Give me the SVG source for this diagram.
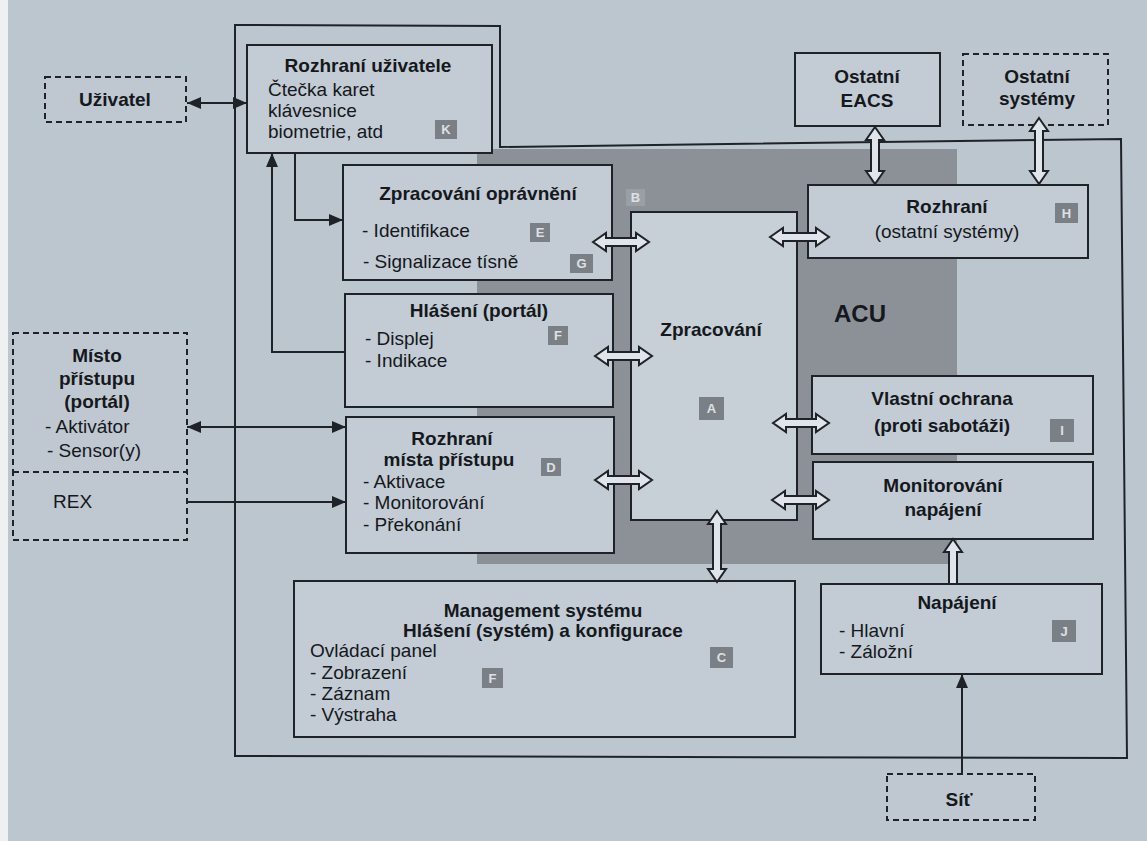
<svg xmlns="http://www.w3.org/2000/svg" width="1147" height="841" viewBox="0 0 1147 841">
<defs>
<style>
.bg{fill:#bcc6cf}
.box{fill:#c3ccd4;stroke:#1f2328;stroke-width:2}
.inner{fill:#c7cfd7;stroke:#1f2328;stroke-width:2}
.dash{fill:#bfc8d0;stroke:#1f2328;stroke-width:2;stroke-dasharray:6 4}
.frame{fill:none;stroke:#1f2328;stroke-width:2}
.acu{fill:#8c9197}
.t{font-family:"Liberation Sans",Arial,sans-serif;font-size:19px;fill:#15181c}
.b{font-weight:bold}
.c{text-anchor:middle}
.big{font-size:24px}
.badge{fill:#7b8086}
.badge2{fill:#9a9fa5}
.bl{font-family:"Liberation Sans",Arial,sans-serif;font-size:13px;font-weight:bold;fill:#dde1e5;text-anchor:middle}
.ln{fill:none;stroke:#1f2328;stroke-width:2}
.ha{fill:#dfe5ea;stroke:#1f2328;stroke-width:2}
</style>
<marker id="ah" viewBox="0 0 14 12" refX="14" refY="6" markerWidth="14" markerHeight="12" markerUnits="userSpaceOnUse" orient="auto-start-reverse">
<path d="M0,0 L14,6 L0,12 Z" fill="#1f2328"/>
</marker>
</defs>

<rect class="bg" x="0" y="0" width="1147" height="841"/>
<rect x="0" y="0" width="8" height="841" fill="#eef0f2"/>

<g id="acu-region">
<rect class="acu" x="477" y="149" width="480" height="415"/>
<text class="t b big" x="860" y="322" text-anchor="middle">ACU</text>
</g>

<g id="system-frame">
<path class="frame" d="M235,25 L500,26 L500,147 L1121,139 L1127,758 L235,756 Z"/>
</g>

<g id="uzivatel">
<rect class="dash" x="45" y="77" width="141" height="45"/>
<text class="t b c" x="115" y="106">Uživatel</text>
</g>

<g id="rozhrani-uzivatele">
<rect class="box" x="247" y="45" width="245" height="108"/>
<text class="t b c" x="368" y="72">Rozhraní uživatele</text>
<text class="t" x="268" y="96">Čtečka karet</text>
<text class="t" x="268" y="117">klávesnice</text>
<text class="t" x="268" y="138">biometrie, atd</text>
<rect class="badge" x="435" y="120" width="22" height="19"/>
<text class="bl" x="446" y="134">K</text>
</g>

<g id="badge-b">
<rect class="badge2" x="626" y="189" width="19" height="17"/>
<text class="bl" x="635.5" y="202">B</text>
</g>

<g id="zpracovani-opravneni">
<rect class="box" x="343" y="165" width="269" height="115"/>
<text class="t b c" x="478" y="200">Zpracování oprávnění</text>
<text class="t" x="362" y="237">- Identifikace</text>
<text class="t" x="363" y="268">- Signalizace tísně</text>
<rect class="badge" x="530" y="223" width="20" height="19"/>
<text class="bl" x="540" y="237">E</text>
<rect class="badge" x="570" y="254" width="23" height="19"/>
<text class="bl" x="581.5" y="268">G</text>
</g>

<g id="hlaseni-portal">
<rect class="box" x="345" y="294" width="268" height="113"/>
<text class="t b c" x="479" y="317">Hlášení (portál)</text>
<text class="t" x="365" y="345">- Displej</text>
<text class="t" x="365" y="367">- Indikace</text>
<rect class="badge" x="548" y="326" width="20" height="19"/>
<text class="bl" x="558" y="340">F</text>
</g>

<g id="rozhrani-mista-pristupu">
<rect class="box" x="346" y="417" width="268" height="136"/>
<text class="t b c" x="452" y="445">Rozhraní</text>
<text class="t b c" x="449" y="466">místa přístupu</text>
<rect class="badge" x="541" y="458" width="20" height="18"/>
<text class="bl" x="551" y="472">D</text>
<text class="t" x="363" y="488">- Aktivace</text>
<text class="t" x="363" y="509">- Monitorování</text>
<text class="t" x="363" y="531">- Překonání</text>
</g>

<g id="zpracovani">
<rect class="inner" x="631" y="212" width="166" height="308"/>
<text class="t b c" x="711" y="336">Zpracování</text>
<rect class="badge" x="699" y="397" width="25" height="23"/>
<text class="bl" x="711.5" y="413">A</text>
</g>

<g id="ostatni-eacs">
<rect class="box" x="795" y="53" width="145" height="73"/>
<text class="t b c" x="867" y="83">Ostatní</text>
<text class="t b c" x="867" y="107">EACS</text>
</g>

<g id="ostatni-systemy">
<rect class="dash" x="963" y="54" width="145" height="71"/>
<text class="t b c" x="1037" y="83">Ostatní</text>
<text class="t b c" x="1037" y="105">systémy</text>
</g>

<g id="rozhrani-ostatni">
<rect class="box" x="808" y="185" width="280" height="73"/>
<text class="t b c" x="947" y="213">Rozhraní</text>
<text class="t c" x="947" y="238">(ostatní systémy)</text>
<rect class="badge" x="1055" y="203" width="23" height="20"/>
<text class="bl" x="1066.5" y="218">H</text>
</g>

<g id="vlastni-ochrana">
<rect class="box" x="812" y="376" width="281" height="78"/>
<text class="t b c" x="942" y="405">Vlastní ochrana</text>
<text class="t b c" x="942" y="432">(proti sabotáži)</text>
<rect class="badge" x="1050" y="419" width="24" height="23"/>
<text class="bl" x="1062" y="435">I</text>
</g>

<g id="monitorovani-napajeni">
<rect class="box" x="813" y="462" width="280" height="77"/>
<text class="t b c" x="943" y="492">Monitorování</text>
<text class="t b c" x="943" y="516">napájení</text>
</g>

<g id="management">
<rect class="box" x="294" y="581" width="501" height="156"/>
<text class="t b c" x="543" y="617">Management systému</text>
<text class="t b c" x="543" y="637">Hlášení (systém) a konfigurace</text>
<text class="t" x="310" y="657">Ovládací panel</text>
<text class="t" x="310" y="679">- Zobrazení</text>
<text class="t" x="310" y="700">- Záznam</text>
<text class="t" x="310" y="721">- Výstraha</text>
<rect class="badge" x="482" y="668" width="21" height="20"/>
<text class="bl" x="492.5" y="683">F</text>
<rect class="badge" x="710" y="647" width="23" height="21"/>
<text class="bl" x="721.5" y="662">C</text>
</g>

<g id="napajeni">
<rect class="box" x="821" y="584" width="281" height="90"/>
<text class="t b c" x="957" y="609">Napájení</text>
<text class="t" x="839" y="637">- Hlavní</text>
<text class="t" x="839" y="658">- Záložní</text>
<rect class="badge" x="1052" y="620" width="24" height="22"/>
<text class="bl" x="1064" y="636">J</text>
</g>

<g id="sit">
<rect class="dash" x="887" y="774" width="148" height="46"/>
<text class="t b c" x="959" y="806">Síť</text>
</g>

<g id="misto-pristupu">
<rect class="dash" x="13" y="333" width="174" height="142"/>
<text class="t b c" x="97" y="362">Místo</text>
<text class="t b c" x="97" y="385">přístupu</text>
<text class="t b c" x="97" y="408">(portál)</text>
<text class="t" x="45" y="433">- Aktivátor</text>
<text class="t" x="47" y="457">- Sensor(y)</text>
</g>

<g id="rex">
<rect class="dash" x="13" y="472" width="174" height="68"/>
<text class="t" x="53" y="508">REX</text>
</g>

<g id="connectors">
<path class="ln" d="M187,103 L247,103" marker-start="url(#ah)" marker-end="url(#ah)"/>
<path class="ln" d="M295,153 L295,220 L343,220" marker-end="url(#ah)"/>
<path class="ln" d="M345,352 L272,352 L272,153" marker-end="url(#ah)"/>
<path class="ln" d="M187,427 L346,427" marker-start="url(#ah)" marker-end="url(#ah)"/>
<path class="ln" d="M187,502 L346,502" marker-end="url(#ah)"/>
<path class="ln" d="M962,774 L962,674" marker-end="url(#ah)"/>
<path class="ha" d="M593,242 L606,233 L606,238 L636,238 L636,233 L649,242 L636,251 L636,246 L606,246 L606,251 Z"/>
<path class="ha" d="M595,356 L608,347 L608,352 L639,352 L639,347 L652,356 L639,365 L639,360 L608,360 L608,365 Z"/>
<path class="ha" d="M595,480 L608,471 L608,476 L639,476 L639,471 L652,480 L639,489 L639,484 L608,484 L608,489 Z"/>
<path class="ha" d="M770,237 L783,228 L783,233 L816,233 L816,228 L829,237 L816,246 L816,241 L783,241 L783,246 Z"/>
<path class="ha" d="M773,423 L786,414 L786,419 L816,419 L816,414 L829,423 L816,432 L816,427 L786,427 L786,432 Z"/>
<path class="ha" d="M772,500 L785,491 L785,496 L816,496 L816,491 L829,500 L816,509 L816,504 L785,504 L785,509 Z"/>
<path class="ha" d="M875,127 L884,140 L879,140 L879,171 L884,171 L875,184 L866,171 L871,171 L871,140 L866,140 Z"/>
<path class="ha" d="M1039,118 L1048,131 L1043,131 L1043,171 L1048,171 L1039,184 L1030,171 L1035,171 L1035,131 L1030,131 Z"/>
<path class="ha" d="M717,511 L726,524 L721,524 L721,569 L726,569 L717,582 L708,569 L713,569 L713,524 L708,524 Z"/>
<path class="ha" d="M953,539 L962,552 L957,552 L957,584 L949,584 L949,552 L944,552 Z"/>
</g>
</svg>
